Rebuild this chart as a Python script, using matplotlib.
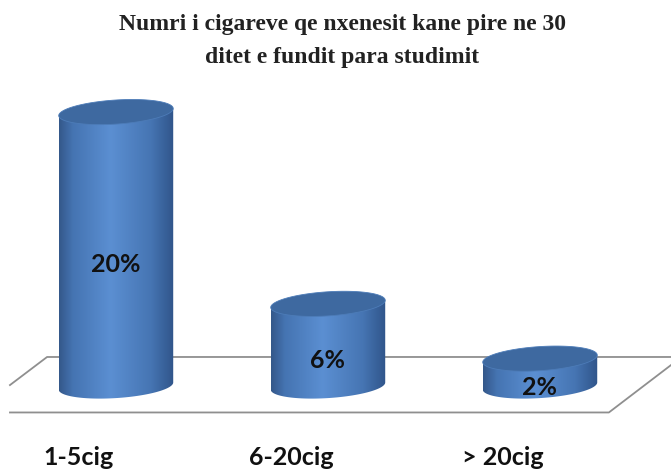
import numpy as np
import matplotlib.pyplot as plt
from matplotlib.colors import LinearSegmentedColormap
from matplotlib.patches import Polygon

categories = ['1-5cig', '6-20cig', '> 20cig']
values = [20, 6, 2]
value_labels = ['20%', '6%', '2%']
title = 'Numri i cigareve qe nxenesit kane pire ne 30\nditet e fundit para studimit'

fig = plt.figure(figsize=(6.71, 4.70), dpi=100)
ax = fig.add_axes([0, 0, 1, 1])
ax.axis('off')

# cylinder geometry (data units: x = category, y = percent)
half_w = 0.27
rim_b = 0.88
tilt = 0.26

body_cmap = LinearSegmentedColormap.from_list(
    'body', [(0.0, '#34588a'), (0.12, '#4574b2'), (0.45, '#5b8fd2'),
             (0.8, '#4675b3'), (1.0, '#30558a')])
grad = np.linspace(0, 1, 256).reshape(1, -1)


def rim(xc, yc, t):
    return xc + half_w * np.cos(t), yc + rim_b * np.sin(t) + tilt * np.cos(t)


for i, v in enumerate(values):
    # body: right side, lower arc of base, left side
    bx, by = rim(i, 0, np.linspace(0, -np.pi, 120))
    pts = [(i + half_w, v + tilt)] + list(zip(bx, by)) + [(i - half_w, v - tilt)]
    body = Polygon(pts, closed=True, facecolor='none', edgecolor='none')
    ax.add_patch(body)
    im = ax.imshow(grad, cmap=body_cmap, aspect='auto', zorder=2,
                   extent=[i - half_w, i + half_w, -rim_b - 0.5, v + rim_b + 0.5])
    im.set_clip_path(body)
    # top face
    tx, ty = rim(i, v, np.linspace(0, 2 * np.pi, 200))
    ax.add_patch(Polygon(list(zip(tx, ty)), closed=True, facecolor='#3e69a0',
                         edgecolor='#4d7cb8', lw=0.6, zorder=3))
    ax.text(i, v / 2 - 1.1, value_labels[i], ha='center', va='center',
            fontsize=18, fontweight='bold', family='Lato', color='#111111', zorder=4)
    ax.text(i - 0.175, -5.25, categories[i], ha='center', va='center',
            fontsize=18, fontweight='bold', family='Lato', color='#111111')

# floor outline
floor_back, floor_front = 2.12, -1.93
ax.plot([2.618, -0.325, -0.5], [floor_back, floor_back, 0.07],
        color='#8f8f8f', lw=1.3, zorder=1)
ax.plot([-0.5, 2.325, 2.618], [floor_front, floor_front, 1.53],
        color='#8f8f8f', lw=1.3, zorder=1)

ax.set_xlim(-0.547, 2.618)
ax.set_ylim(-6.13, 28.18)

fig.text(0.51, 1 - 41 / 470, title, ha='center', va='center', fontsize=17,
         family='Liberation Serif', fontweight='bold', linespacing=1.75,
         color='#222222')

fig.savefig('out.png', dpi=100)
